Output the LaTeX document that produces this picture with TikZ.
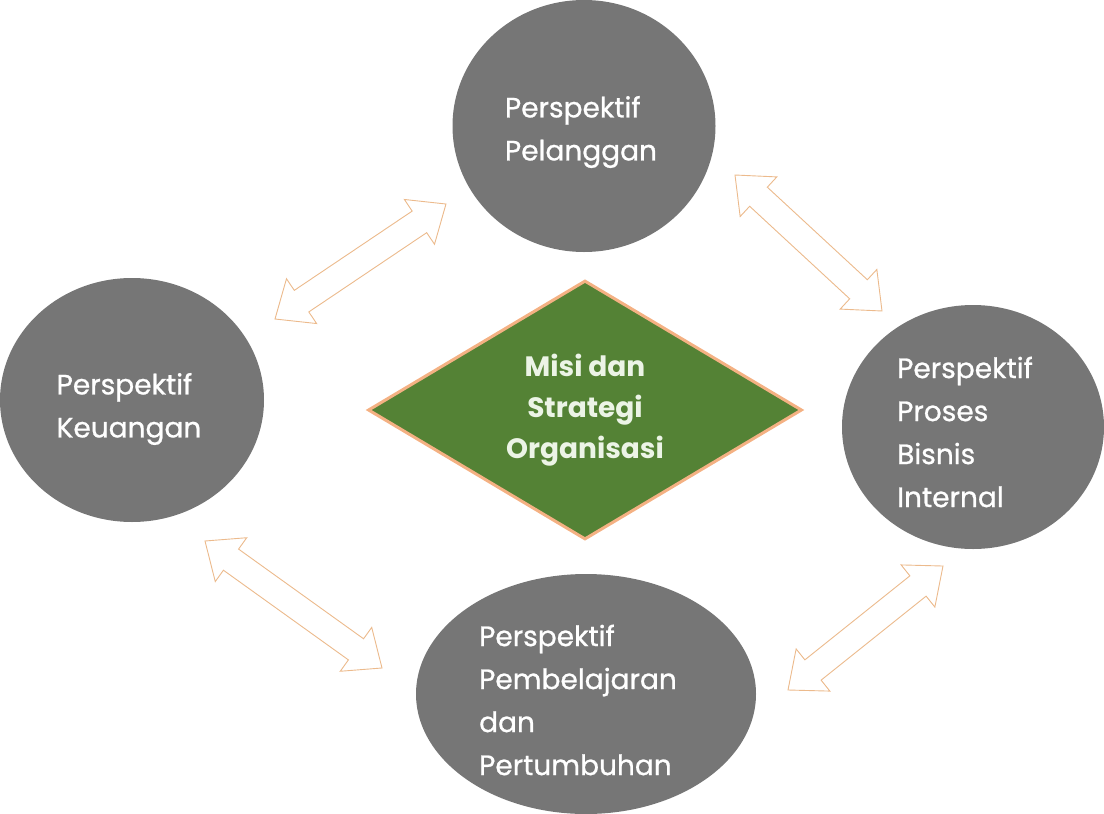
\documentclass[tikz,border=0pt]{standalone}
\usepackage{fontspec}
\setmainfont{Poppins}
\newfontfamily\perspfont{Poppins}[FakeBold=0.8]
\usetikzlibrary{shapes.geometric,calc}
\definecolor{ellgray}{RGB}{118,118,118}
\definecolor{dgreen}{RGB}{84,130,53}
\definecolor{tan}{RGB}{244,177,131}
\definecolor{arrtan}{RGB}{236,186,140}
\definecolor{ltext}{RGB}{236,244,230}
\newcommand{\dblarr}[2]{%
  \path let \p1=($(#2)-(#1)$), \n1={atan2(\y1,\x1)}, \n2={veclen(\x1,\y1)}, \n3={\n2-32pt} in
    [draw=arrtan, fill=white, line width=0.9pt, line join=miter, shift={(#1)}, rotate=\n1]
    (0pt,0pt) -- (32pt,27pt) -- (32pt,13pt) -- (\n3,13pt) -- (\n3,27pt) -- (\n2,0pt)
    -- (\n3,-27pt) -- (\n3,-13pt) -- (32pt,-13pt) -- (32pt,-27pt) -- cycle;}
\begin{document}
\begin{tikzpicture}[x=1pt,y=-1pt,
  persp/.style={ellipse, fill=ellgray, draw=none, inner sep=0pt},
  ptext/.style={text=white, inner sep=0pt, align=left,
    font=\perspfont\fontsize{28}{43}\selectfont},
  mission/.style={diamond, shape aspect=1.68, fill=dgreen, draw=tan, line width=3pt,
    inner sep=0pt, minimum width=434pt, minimum height=259pt, text=ltext,
    align=center, font=\bfseries\fontsize{28}{41}\selectfont}]
\useasboundingbox (0,0) rectangle (1104,814);
\node[persp, minimum width=263pt, minimum height=252pt] (pel) at (584,126) {};
\node[persp, minimum width=264pt, minimum height=244pt] (keu) at (132,400) {};
\node[persp, minimum width=262pt, minimum height=244pt] (pro) at (973,427) {};
\node[persp, minimum width=340pt, minimum height=240pt] (pem) at (586,694) {};
\node[ptext] (pelt) at ([shift={(-3,6)}]pel.center) {Perspektif\\Pelanggan};
\node[ptext] (keut) at ([shift={(-3,9)}]keu.center) {Perspektif\\Keuangan};
\node[ptext] (prot) at ([shift={(-8,5)}]pro.center) {Perspektif\\Proses\\Bisnis\\Internal};
\node[ptext] (pemt) at ([shift={(-8,6)}]pem.center) {Perspektif\\Pembelajaran\\dan\\Pertumbuhan};
\node[mission] (misi) at (585,410) {Misi dan\\Strategi\\Organisasi};
\coordinate (a1s) at (275,319);
\coordinate (a1e) at (446,204);
\coordinate (a2s) at (735,175);
\coordinate (a2e) at (882,311);
\coordinate (a3s) at (205,541);
\coordinate (a3e) at (382,668);
\coordinate (a4s) at (788,690);
\coordinate (a4e) at (943,566);
\dblarr{a1s}{a1e}
\dblarr{a2s}{a2e}
\dblarr{a3s}{a3e}
\dblarr{a4s}{a4e}
\end{tikzpicture}
\end{document}
